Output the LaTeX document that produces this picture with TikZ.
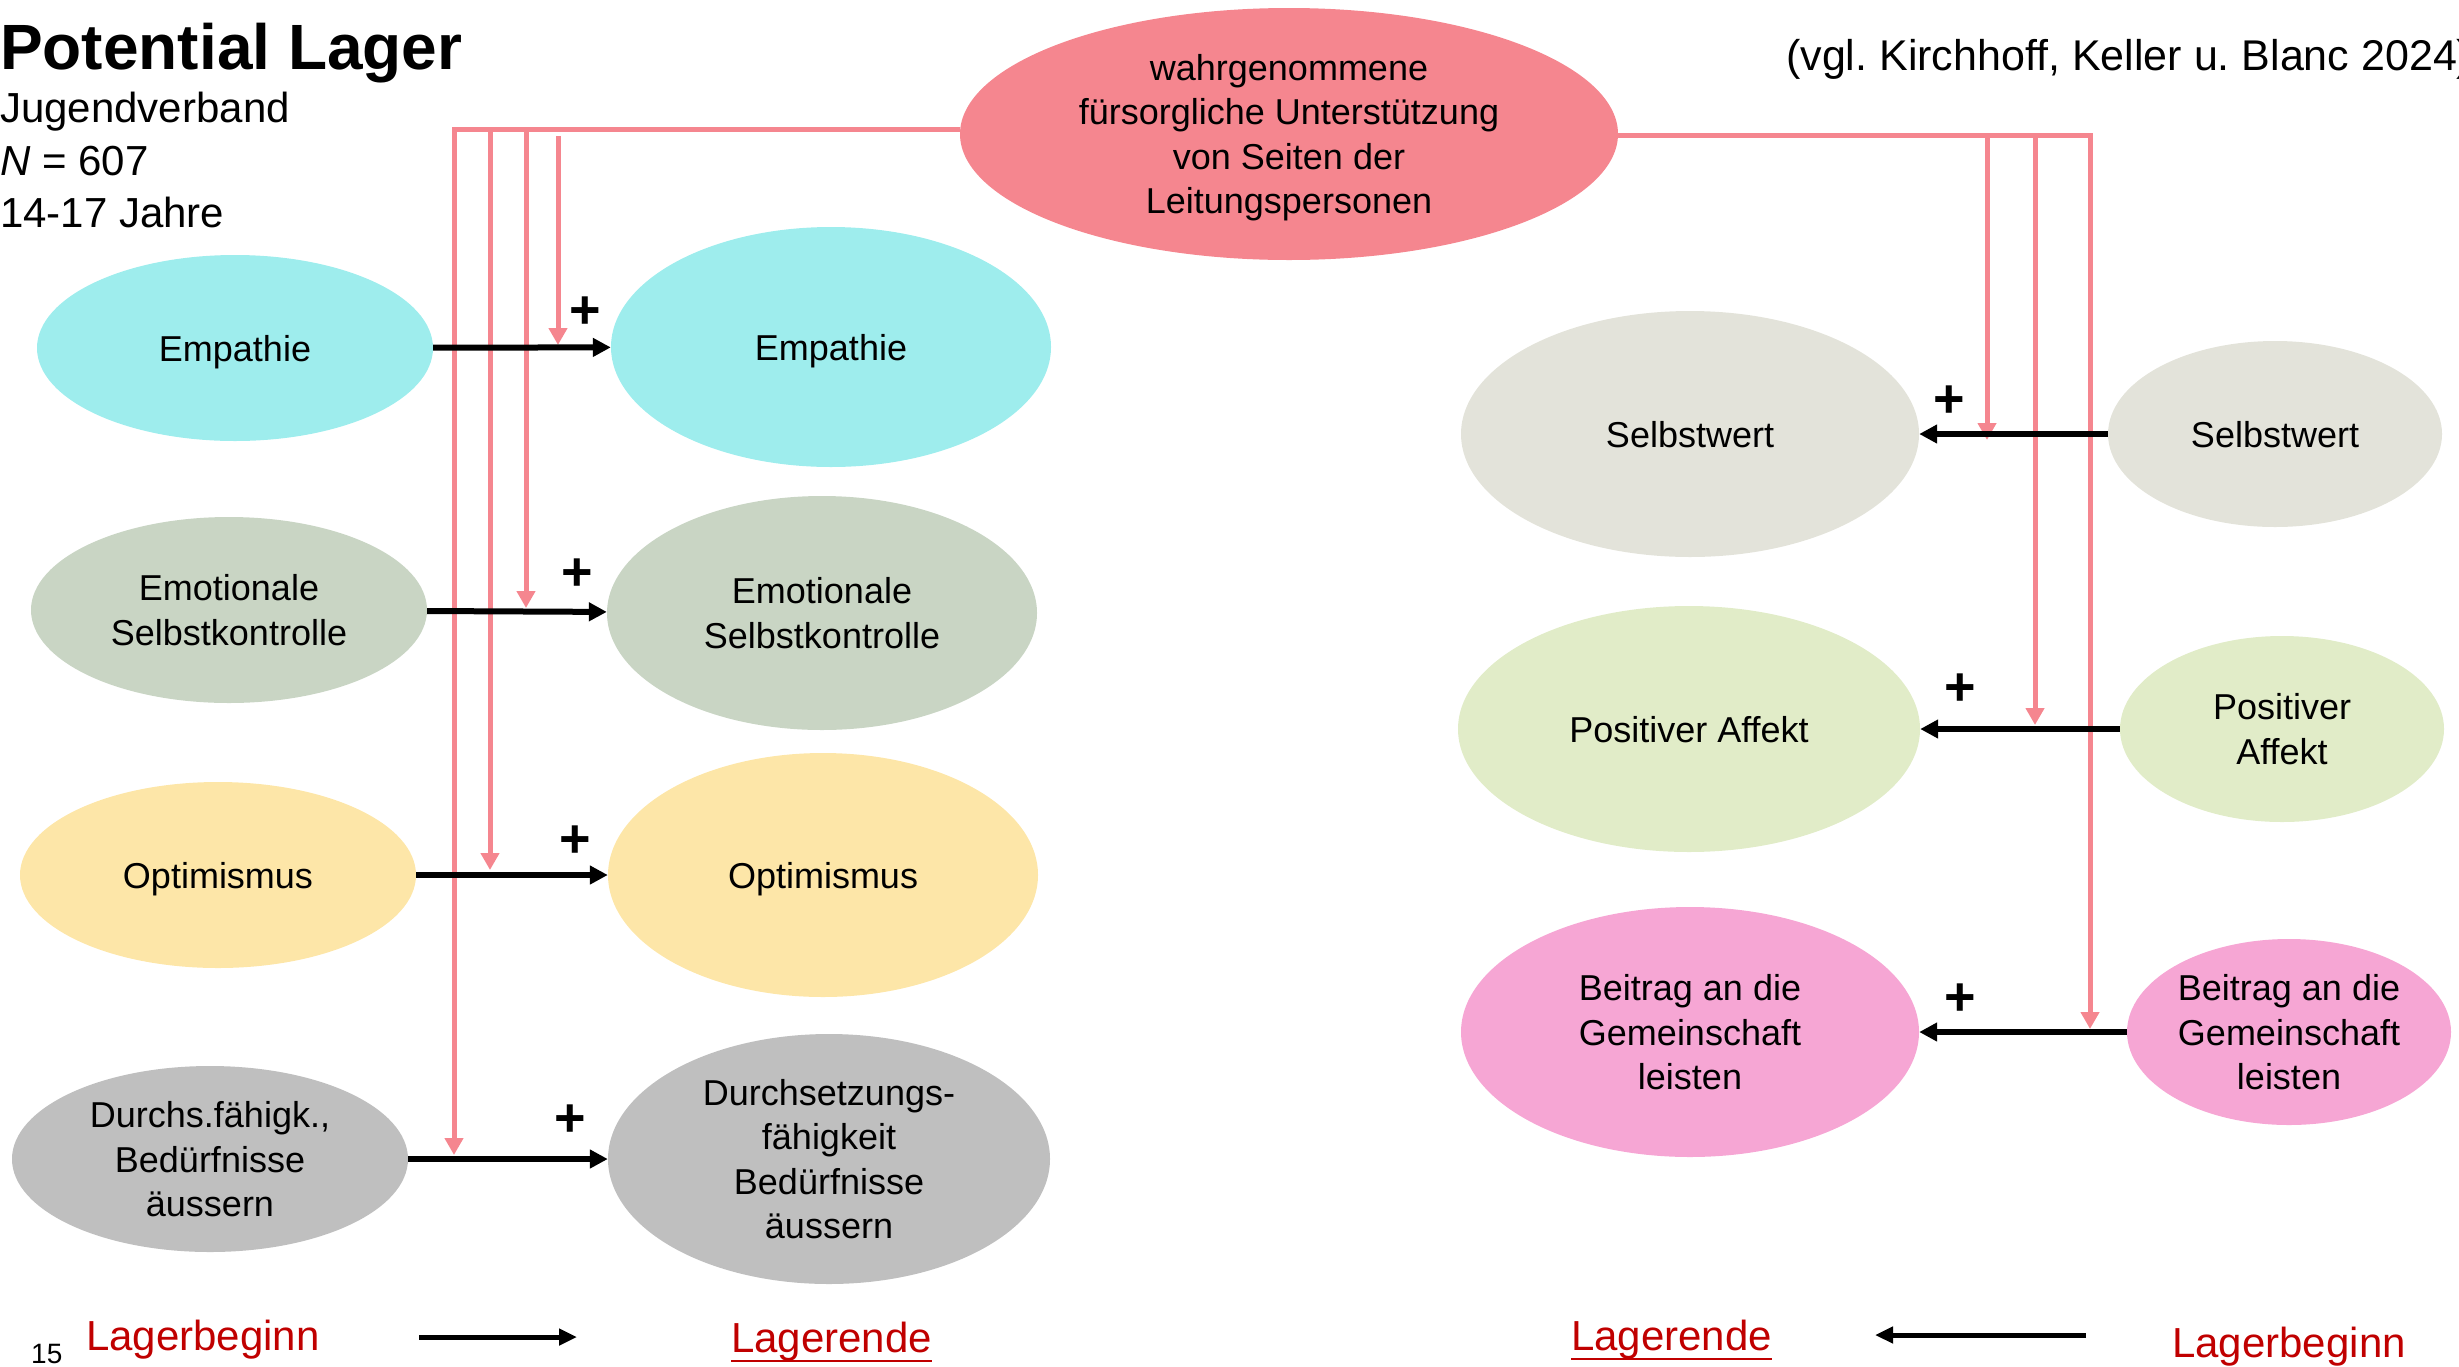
\documentclass[tikz,border=0pt]{standalone}
\usepackage{fontspec}
\setmainfont{Liberation Sans}
\usepackage{tikz}
\usetikzlibrary{shapes.geometric,arrows.meta}
\definecolor{rosa}{HTML}{F5868F}
\definecolor{tuerkis}{HTML}{9EEDED}
\definecolor{salbei}{HTML}{C9D5C4}
\definecolor{gelb}{HTML}{FDE6A8}
\definecolor{grau}{HTML}{BFBFBF}
\definecolor{beige}{HTML}{E3E3DA}
\definecolor{hellgruen}{HTML}{E1ECC8}
\definecolor{magentarosa}{HTML}{F6A6D4}
\definecolor{dunkelrot}{HTML}{C00000}
\tikzstyle{bubble} = [ellipse,inner sep=0pt,align=center,text depth=0pt,font=\fontsize{36}{44.5}\selectfont]
\tikzstyle{klein} = [bubble,minimum width=396pt,minimum height=186pt]
\tikzstyle{gross} = [bubble,minimum width=440pt,minimum height=240pt]
\tikzstyle{arrow} = [line width=6pt,-{Triangle[length=18pt,width=18pt]}]
\tikzstyle{zeitpfeil} = [line width=5pt,-{Triangle[length=18pt,width=16pt]}]
\tikzstyle{pinkline} = [rosa,line width=5pt]
\tikzstyle{pinkarrow} = [pinkline,-{Triangle[length=17pt,width=18pt]}]
\tikzstyle{plus} = [inner sep=0pt,font=\fontsize{54}{54}\selectfont\bfseries]
\tikzstyle{kopf} = [anchor=base west,inner sep=0pt,font=\fontsize{42}{42}\selectfont]
\tikzstyle{zeit} = [kopf,text=dunkelrot]

\begin{document}
\begin{tikzpicture}[x=1pt,y=-1pt]
\useasboundingbox (0,0) rectangle (2459,1366);

\node[kopf,font=\fontsize{64}{64}\selectfont\bfseries] (titel) at (0,69) {Potential Lager};
\node[kopf] (info1) at (0,122) {Jugendverband};
\node[kopf] (info2) at (0,175) {\textit{N} = 607};
\node[kopf] (info3) at (0,227) {14-17 Jahre};
\node[kopf,font=\fontsize{43}{43}\selectfont] (quelle) at (1786,70) {\frenchspacing(vgl. Kirchhoff, Keller u. Blanc 2024)};

\node[bubble,fill=rosa,minimum width=658pt,minimum height=252pt] (fuersorge) at (1289,134)
	{wahrgenommene\\fürsorgliche Unterstützung\\von Seiten der\\Leitungspersonen};

\node[klein,fill=tuerkis] (emp1) at (235,348) {Empathie};
\node[klein,fill=salbei] (emo1) at (229,610) {Emotionale\\Selbstkontrolle};
\node[klein,fill=gelb] (opt1) at (218,875) {Optimismus};
\node[klein,fill=grau] (dur1) at (210,1159) {Durchs.fähigk.,\\Bedürfnisse\\äussern};

\node[gross,fill=tuerkis] (emp2) at (831,347) {Empathie};
\node[gross,fill=salbei,minimum width=430pt,minimum height=234pt] (emo2) at (822,613) {Emotionale\\Selbstkontrolle};
\node[gross,fill=gelb,minimum width=430pt,minimum height=244pt] (opt2) at (823,875) {Optimismus};
\node[gross,fill=grau,minimum width=442pt,minimum height=250pt] (dur2) at (829,1159) {Durchsetzungs-\\fähigkeit\\Bedürfnisse\\äussern};

\node[gross,fill=beige,minimum width=458pt,minimum height=246pt] (sw2) at (1690,434) {Selbstwert};
\node[gross,fill=hellgruen,minimum width=462pt,minimum height=246pt] (pa2) at (1689,729) {Positiver Affekt};
\node[gross,fill=magentarosa,minimum width=458pt,minimum height=250pt] (bg2) at (1690,1032) {Beitrag an die\\Gemeinschaft\\leisten};

\node[klein,fill=beige,minimum width=334pt] (sw1) at (2275,434) {Selbstwert};
\node[klein,fill=hellgruen,minimum width=324pt] (pa1) at (2282,729) {Positiver\\Affekt};
\node[klein,fill=magentarosa,minimum width=324pt] (bg1) at (2289,1032) {Beitrag an die\\Gemeinschaft\\leisten};

\coordinate (knickL) at (454,129);
\coordinate (knickR) at (2090,135);
\draw[pinkarrow] (fuersorge.west |- knickL) -- (knickL) -- (454,1155);
\foreach \x/\ya/\yb in {490/129/870, 526/129/608, 558/136/345}{
	\draw[pinkarrow] (\x,\ya) -- (\x,\yb);
}
\draw[pinkarrow] (fuersorge.east |- knickR) -- (knickR) -- (2090,1029);
\foreach \x/\yb in {1987/440, 2035/725}{
	\draw[pinkarrow] (\x,135) -- (\x,\yb);
}

\foreach \a/\b in {emp1/emp2, emo1/emo2, opt1/opt2, dur1/dur2, sw1/sw2, pa1/pa2, bg1/bg2}{
	\draw[arrow] (\a) -- (\b);
}
\node[plus] (plus1) at (585,313) {+};
\node[plus] (plus2) at (577,575) {+};
\node[plus] (plus3) at (575,842) {+};
\node[plus] (plus4) at (570,1121) {+};
\node[plus] (plus5) at (1949,402) {+};
\node[plus] (plus6) at (1960,690) {+};
\node[plus] (plus7) at (1960,1000) {+};

\node[kopf,font=\fontsize{28}{28}\selectfont] (seite) at (31,1363) {15};
\node[zeit] (beginnL) at (86,1350) {Lagerbeginn};
\node[zeit] (endeL) at (731,1352) {Lagerende};
\node[zeit] (endeR) at (1571,1350) {Lagerende};
\node[zeit] (beginnR) at (2172,1357) {Lagerbeginn};
\draw[dunkelrot,line width=2.5pt] (endeL.south west) -- (endeL.south east);
\draw[dunkelrot,line width=2.5pt] (endeR.south west) -- (endeR.south east);
\coordinate (zeitL1) at (419,1337);
\coordinate (zeitL2) at (577,1337);
\coordinate (zeitR1) at (2086,1335);
\coordinate (zeitR2) at (1875,1335);
\draw[zeitpfeil] (zeitL1) -- (zeitL2);
\draw[zeitpfeil] (zeitR1) -- (zeitR2);
\end{tikzpicture}
\end{document}
